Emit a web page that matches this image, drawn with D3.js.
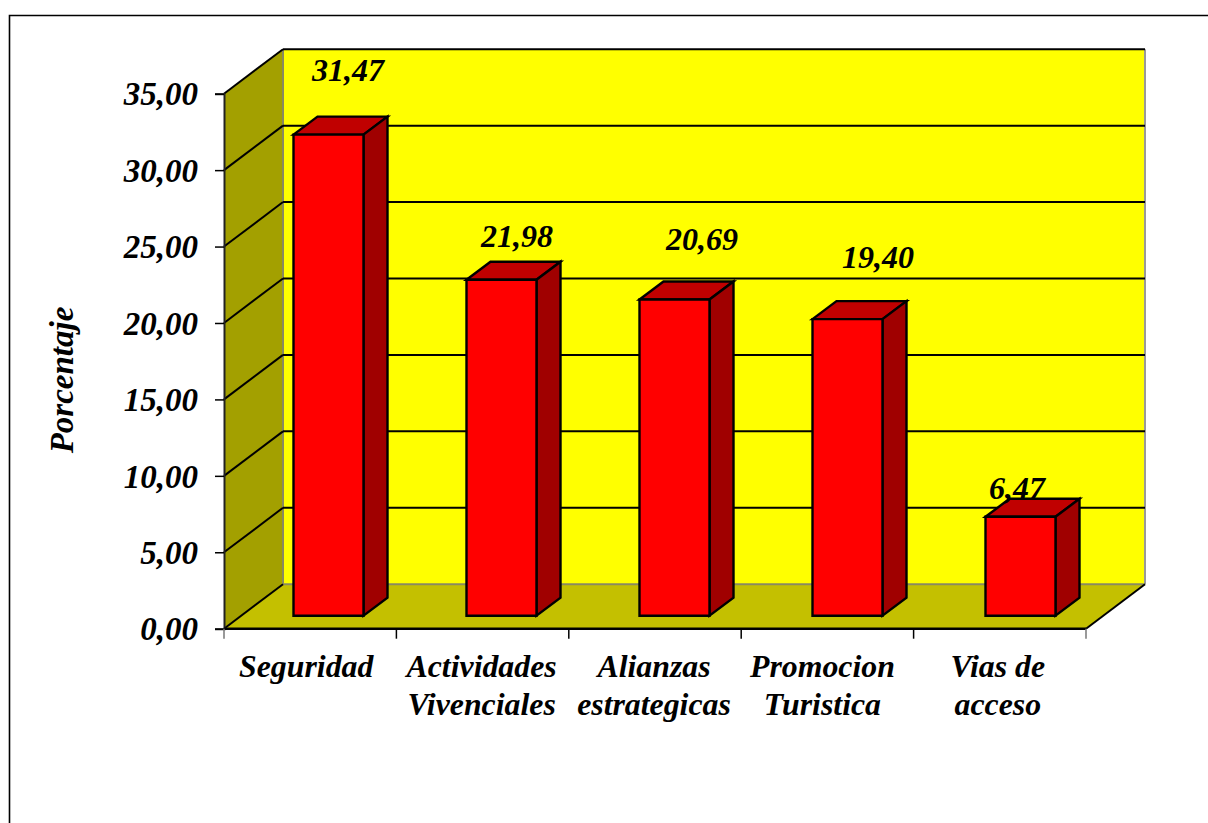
<!DOCTYPE html>
<html lang="en">
<head>
    <meta charset="UTF-8">
    <title>Porcentaje</title>
    <style>
        html, body { margin: 0; padding: 0; background: #fff; overflow: hidden; }
        text { font-family: "Liberation Serif", serif; font-weight: bold; font-style: italic; fill: #000; }
    </style>
</head>
<body>
<script src="https://d3js.org/d3.v7.min.js"></script>
<script>
    // values
    var categories = ['Seguridad', 'Actividades Vivenciales', 'Alianzas estrategicas', 'Promocion Turistica', 'Vias de acceso'];
    var categoryLines = [['Seguridad'], ['Actividades', 'Vivenciales'], ['Alianzas', 'estrategicas'], ['Promocion', 'Turistica'], ['Vias de', 'acceso']];
    var values = [31.47, 21.98, 20.69, 19.40, 6.47];
    var yTicks = [0, 5, 10, 15, 20, 25, 30, 35];
    var yTitle = 'Porcentaje';

    var width = 1208, height = 823;
    var svg = d3.select('body').append('svg').attr('width', width).attr('height', height).style('display', 'block');

    // frame around the chart, cut by the right and bottom edge
    svg.append('path').attr('d', 'M9.5,823V15.5H1208').attr('fill', 'none').attr('stroke', '#000').attr('stroke-width', 1.6);

    var plotLeft = 224, plotRight = 1086, plotBottom = 628.7, plotTop = 93.7;
    var depthX = 59, depthY = -44.5;   // 3d offset of the back wall

    var x = d3.scaleBand().domain(categories).range([plotLeft, plotRight]);
    var y = d3.scaleLinear().domain([0, 35]).range([plotBottom, plotTop]);
    // bars stand on the middle of the floor, a bit wider apart than the axis ticks
    var xBar = d3.scaleBand().domain(categories).range([242, 1107]);
    var fmt = function (v) { return d3.format('.2f')(v).replace('.', ','); };

    var backLeft = plotLeft + depthX, backRight = plotRight + depthX;

    function poly(points, fill, stroke, sw) {
        return svg.append('polygon').attr('points', points.map(function (p) { return p.join(','); }).join(' '))
            .attr('fill', fill).attr('stroke', stroke || 'none').attr('stroke-width', sw || 0).attr('stroke-linejoin', 'miter');
    }
    function line(x1, y1, x2, y2, color, sw) {
        svg.append('line').attr('x1', x1).attr('y1', y1).attr('x2', x2).attr('y2', y2)
            .attr('stroke', color).attr('stroke-width', sw);
    }

    // walls and floor
    poly([[backLeft, y(35) + depthY], [backRight, y(35) + depthY], [backRight, y(0) + depthY], [backLeft, y(0) + depthY]], '#ffff00');
    poly([[plotLeft, y(35)], [backLeft, y(35) + depthY], [backLeft, y(0) + depthY], [plotLeft, y(0)]], '#a3a000');
    poly([[plotLeft, y(0)], [backLeft, y(0) + depthY], [backRight, y(0) + depthY], [plotRight, y(0)]], '#c4c000');

    line(backLeft, y(35) + depthY, backLeft, y(0) + depthY, '#8a8a60', 2);
    line(backRight, y(35) + depthY, backRight, y(0) + depthY, '#999999', 2);
    line(backLeft, y(0) + depthY, backRight, y(0) + depthY, '#8a8a60', 2);
    line(plotRight, y(0), backRight, y(0) + depthY, '#000', 2);

    // grid lines, side wall then back wall
    yTicks.forEach(function (t) {
        if (t > 0) line(backLeft, y(t) + depthY, backRight, y(t) + depthY, '#000', 2);
        line(plotLeft, y(t), backLeft, y(t) + depthY, '#000', 2);
    });

    // axes
    var yAxis = svg.append('g').attr('transform', 'translate(' + plotLeft + ',0)')
        .call(d3.axisLeft(y).tickValues(yTicks).tickFormat(fmt).tickSize(9).tickPadding(17));
    yAxis.selectAll('.domain').attr('stroke', '#222').attr('stroke-width', 2);
    yAxis.selectAll('line').attr('stroke', '#000').attr('stroke-width', 1.5);
    yAxis.selectAll('text').attr('font-size', 33).attr('dy', '0.34em').style('font-family', '"Liberation Serif", serif');

    line(plotLeft, plotBottom, plotRight, plotBottom, '#000', 2.5);
    d3.range(categories.length + 1).forEach(function (i) {
        var tx = plotLeft + i * x.step();
        line(tx, plotBottom, tx, plotBottom + 10, i === 0 || i === categories.length ? '#777' : '#000', 1.5);
    });

    // value labels were placed by hand in the original, one nudge per bar
    var labelDx = [54.5, 50.5, 62.5, 65.5, 31.5], labelDy = [-54, -33, -49, -51, -18];
    var catDx = [-4, -1, -1, -5, -2];

    var barW = 70, barDX = 24, barDY = -18, offY = -13;
    categories.forEach(function (c, i) {
        var x0 = xBar(c) + xBar.bandwidth() / 2 - barW / 2, x1 = x0 + barW;
        var y0 = y(0) + offY, yT = y(values[i]) + offY;
        poly([[x0, yT], [x0 + barDX, yT + barDY], [x1 + barDX, yT + barDY], [x1, yT]], '#c00000', '#000', 2.4);
        poly([[x1, yT], [x1 + barDX, yT + barDY], [x1 + barDX, y0 + barDY], [x1, y0]], '#a00000', '#000', 2.4);
        poly([[x0, yT], [x1, yT], [x1, y0], [x0, y0]], '#ff0000', '#000', 2.4);
        svg.append('text').attr('x', x0 + labelDx[i]).attr('y', yT + labelDy[i]).attr('text-anchor', 'middle')
            .attr('font-size', 32).text(fmt(values[i]));

        var g = svg.append('text').attr('text-anchor', 'middle').attr('font-size', 31.8);
        categoryLines[i].forEach(function (l, k) {
            g.append('tspan').attr('x', x(c) + x.bandwidth() / 2 + catDx[i]).attr('y', 677 + k * 38).text(l);
        });
    });

    svg.append('text').attr('transform', 'translate(73,380) rotate(-90)').attr('text-anchor', 'middle')
        .attr('font-size', 33).text(yTitle);
</script>
</body>
</html>
